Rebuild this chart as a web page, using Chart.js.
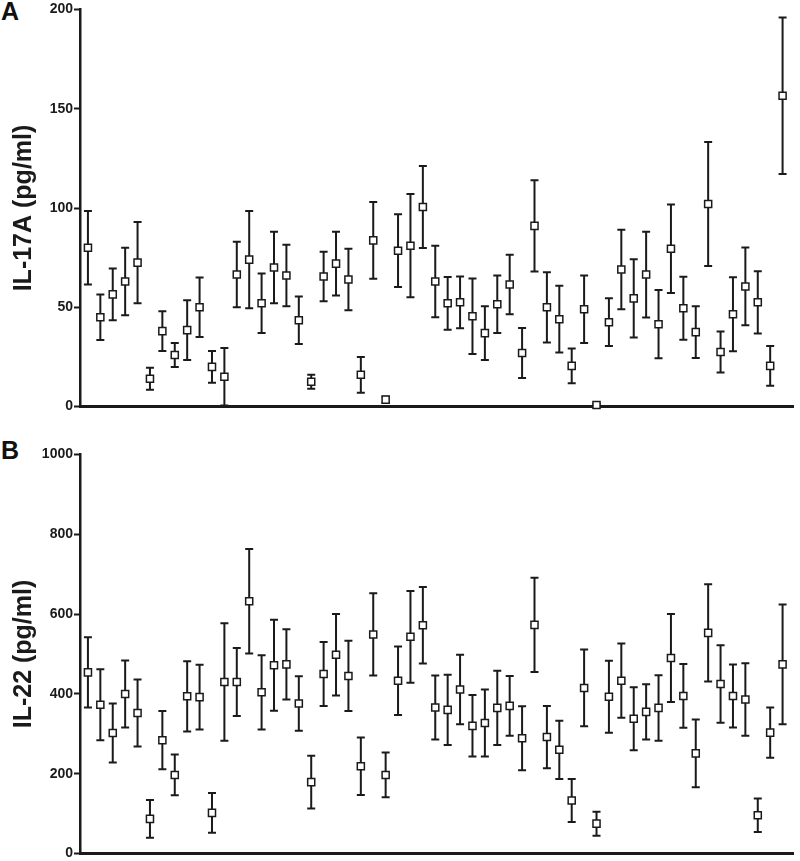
<!DOCTYPE html>
<html lang="en">
<head>
<meta charset="UTF-8">
<title>IL-17A and IL-22</title>
<script src="https://cdn.jsdelivr.net/npm/chart.js"></script>
<style>
  body { margin: 0; background: #fff; }
  .panel { position: absolute; left: 0; width: 800px; }
  #panelA { top: 0; height: 416px; }
  #panelB { top: 445px; height: 418px; }
  .letter { position: absolute; left: 1px; font: bold 25px "Liberation Sans", Arial, sans-serif; line-height: 25px; color: #111; }
</style>
</head>
<body>
<div class="letter" style="top:-1px">A</div>
<div class="letter" style="top:438px">B</div>
<div class="panel" id="panelA"><canvas id="chartA"></canvas></div>
<div class="panel" id="panelB"><canvas id="chartB"></canvas></div>

<script>
const samples = [1, 2, 3, 4, 5, 6, 7, 8, 9, 10, 11, 12, 13, 14, 15, 16, 17, 18, 19, 20,
  21, 22, 23, 24, 25, 26, 27, 28, 29, 30, 31, 32, 33, 34, 35, 36, 37, 38, 39, 40,
  41, 42, 43, 44, 45, 46, 47, 48, 49, 50, 51, 52, 53, 54, 55, 56, 57];

// IL-17A (pg/ml), mean and error
const il17Mean = [80, 45, 56.5, 63, 72.5, 14, 38, 26, 38.5, 50, 20, 15, 66.5, 74, 52, 70, 66, 43.5, 12.5, 65.5,
  72, 64, 16, 83.7, 3.5, 78.5, 81, 100.5, 63, 52, 52.5, 45.5, 37, 51.5, 61.5, 27, 91, 50, 44, 20.5,
  49, 0.8, 42.5, 69, 54.5, 66.5, 41.5, 79.5, 49.5, 37.5, 102, 27.5, 46.5, 60.5, 52.5, 20.5, 156.5];
const il17Err = [18.5, 11.5, 13, 17, 20.5, 5.5, 10, 6, 15, 15, 8, 14.5, 16.5, 24.5, 15, 18, 15.5, 12, 3.5, 12.5,
  16, 15.5, 9, 19.3, 1.5, 18.3, 26, 20.6, 18, 13.3, 13, 19, 13.5, 14.5, 15, 12.6, 23, 17.7, 16.8, 8.7,
  17, 0.5, 12, 20, 19.7, 21.6, 17.2, 22.3, 15.9, 13, 31.2, 10.3, 18.6, 19.6, 15.7, 10, 39.4];

// IL-22 (pg/ml), mean and error
const il22Mean = [454, 373, 302, 400, 352, 87, 284, 197, 394, 392, 102, 430, 430, 632, 404, 472, 474, 376, 179, 450,
  498, 445, 219, 549, 197, 433, 543, 572, 366, 360, 411, 320, 327, 365, 370, 289, 573, 292, 260, 133,
  415, 75, 393, 433, 338, 355, 365, 490, 395, 251, 553, 425, 395, 386, 96, 303, 474];
const il22Err = [88, 89, 74, 84, 84, 47, 73, 51, 88, 81, 50, 147, 85, 131, 93, 114, 88, 68, 66, 80,
  102, 88, 72, 103, 56, 86, 115, 96, 80, 88, 87, 77, 84, 93, 75, 80, 118, 78, 73, 54,
  96, 30, 90, 93, 79, 69, 82, 110, 80, 85, 122, 97, 79, 91, 42, 63, 150];

const ticksA = [0, 50, 100, 150, 200];
const ticksB = [0, 200, 400, 600, 800, 1000];

const ink = '#1a1a1a';
const fontFamily = '"Liberation Sans", Arial, sans-serif';

// draws vertical error bars with caps behind the square markers
const errorBars = {
  id: 'errorBars',
  beforeDatasetsDraw(chart, args, opts) {
    const { ctx, scales: { x, y } } = chart;
    const pts = chart.data.datasets[0].data;
    ctx.save();
    ctx.strokeStyle = ink;
    ctx.lineWidth = 2;
    pts.forEach((p, i) => {
      const e = opts.errors[i];
      const px = x.getPixelForValue(p.x);
      const top = y.getPixelForValue(p.y + e);
      const bot = y.getPixelForValue(Math.max(p.y - e, 0));
      ctx.beginPath();
      ctx.moveTo(px, top); ctx.lineTo(px, bot);
      ctx.moveTo(px - 4, top); ctx.lineTo(px + 4, top);
      ctx.moveTo(px - 4, bot); ctx.lineTo(px + 4, bot);
      ctx.stroke();
    });
    ctx.restore();
  }
};

function makeChart(id, means, errs, ticks, title) {
  const points = samples.map((s, i) => ({ x: s, y: means[i] }));
  return new Chart(document.getElementById(id), {
    type: 'scatter',
    data: {
      datasets: [{
        data: points,
        pointStyle: 'rect',
        pointRadius: 5,
        borderWidth: 1.5,
        borderColor: ink,
        backgroundColor: '#fff',
        clip: false
      }]
    },
    plugins: [errorBars],
    options: {
      responsive: true,
      maintainAspectRatio: false,
      animation: false,
      layout: { padding: { left: 0, right: 5, top: 0, bottom: 0 } },
      plugins: {
        legend: { display: false },
        tooltip: { enabled: false },
        errorBars: { errors: errs }
      },
      scales: {
        x: {
          type: 'linear',
          min: 0.36,
          max: 57.88,
          ticks: { display: false },
          grid: { display: false, drawTicks: false },
          border: { display: true, width: 3, color: ink }
        },
        y: {
          min: ticks[0],
          max: ticks[ticks.length - 1],
          afterBuildTicks: scale => { scale.ticks = ticks.map(v => ({ value: v })); },
          afterFit: scale => { scale.width = 80; },
          ticks: {
            color: ink,
            padding: 1,
            callback: v => String(v),
            font: { family: fontFamily, size: 14, weight: 'bold' }
          },
          grid: { display: true, drawOnChartArea: false, drawTicks: true, tickLength: 6, tickWidth: 2, color: ink },
          border: { display: true, width: 2.5, color: ink },
          title: {
            display: true,
            text: title,
            color: ink,
            padding: { top: 9, bottom: 0 },
            font: { family: fontFamily, size: 25, weight: 'bold' }
          }
        }
      }
    }
  });
}

makeChart('chartA', il17Mean, il17Err, ticksA, 'IL-17A (pg/ml)');
makeChart('chartB', il22Mean, il22Err, ticksB, 'IL-22 (pg/ml)');
</script>
</body>
</html>
